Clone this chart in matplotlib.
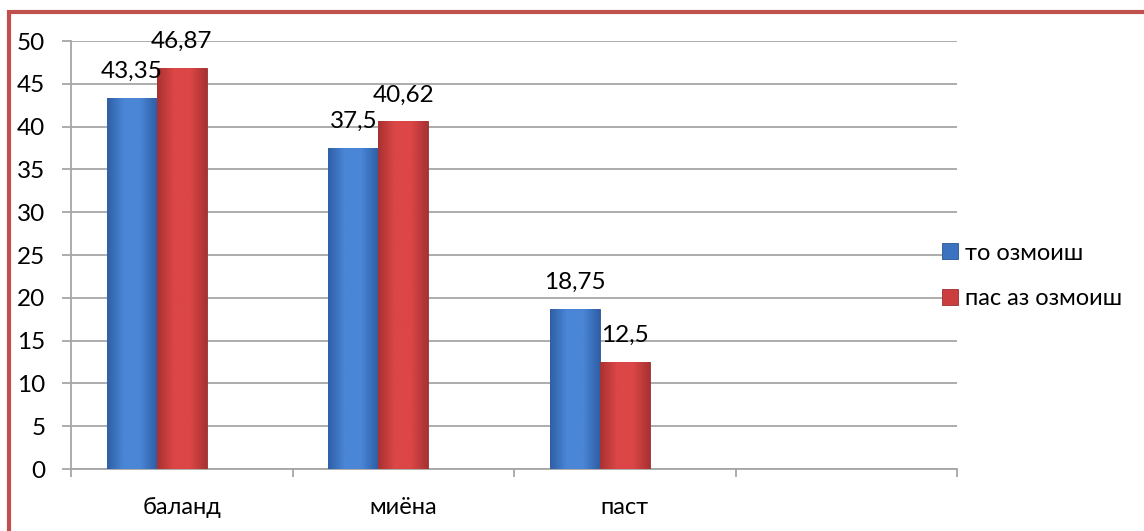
import matplotlib
matplotlib.use('Agg')
import matplotlib.pyplot as plt
from matplotlib.patches import Rectangle
import numpy as np

plt.rcParams['font.family'] = ['Lato', 'DejaVu Sans']

categories = ['баланд', 'миёна', 'паст', '']
before = [43.35, 37.5, 18.75]
after = [46.87, 40.62, 12.5]
before_labels = ['43,35', '37,5', '18,75']
after_labels = ['46,87', '40,62', '12,5']
series_names = ['то озмоиш', 'пас аз озмоиш']


def shade(ax, patches, light, dark):
    # fake the glossy office look: horizontal gradient clipped to each bar
    cmap = matplotlib.colors.LinearSegmentedColormap.from_list('g', [dark, light, light, dark])
    grad = np.linspace(0, 1, 64).reshape(1, -1)
    for p in patches:
        x0, y0 = p.get_x(), p.get_y()
        w, h = p.get_width(), p.get_height()
        im = ax.imshow(grad, cmap=cmap, aspect='auto', extent=(x0, x0 + w, y0, y0 + h),
                       zorder=p.get_zorder() + 0.1, interpolation='bicubic')
        im.set_clip_path(p)


fig = plt.figure(figsize=(11.44, 5.31), dpi=100)
ax = fig.add_axes([71/1144, 62/531, (957-71)/1144, (469-41)/531])

x = np.arange(len(before))
w = 0.225
# excel leaves room for a third (empty) series, so the pair sits left of centre
b1 = ax.bar(x - w, before, w, color='#3b73c0', edgecolor='#2a5590', linewidth=0.6, zorder=3, label=series_names[0])
b2 = ax.bar(x, after, w, color='#cc3d3d', edgecolor='#983030', linewidth=0.6, zorder=3, label=series_names[1])
shade(ax, b1, '#4a86d6', '#2f5fa6')
shade(ax, b2, '#dc4646', '#a83232')

for i in range(len(before)):
    ax.annotate(before_labels[i], (x[i] - w, before[i]), xytext=(0, 19), textcoords='offset points',
                ha='center', va='center', fontsize=17.5, zorder=5)
    ax.annotate(after_labels[i], (x[i], after[i]), xytext=(0, 19), textcoords='offset points',
                ha='center', va='center', fontsize=17.5, zorder=5)

ax.set_xlim(-0.5, len(categories) - 0.5)
ax.set_ylim(0, 50)
ax.set_yticks(np.arange(0, 51, 5))
ax.yaxis.grid(True, color='#a6a6a6', linewidth=1.3, zorder=0)
ax.set_axisbelow(True)

ax.set_xticks(np.arange(len(categories)))
ax.set_xticklabels(categories, fontsize=17)
ax.set_xticks(np.arange(len(categories) + 1) - 0.5, minor=True)
ax.tick_params(axis='x', which='major', length=0, pad=20)
ax.tick_params(axis='x', which='minor', length=6, width=1.3, color='#a6a6a6', direction='out')
ax.tick_params(axis='y', length=6.5, width=1.3, color='#a6a6a6', labelsize=17.5, pad=12)

for s in ['top', 'right']:
    ax.spines[s].set_visible(False)
for s in ['left', 'bottom']:
    ax.spines[s].set_color('#a6a6a6')
    ax.spines[s].set_linewidth(1.3)

ax.legend(loc='center left', bbox_to_anchor=(942/1144, (531-276)/531), bbox_transform=fig.transFigure,
          frameon=False, fontsize=17, handlelength=0.68, handleheight=0.68, handletextpad=0.3,
          labelspacing=1.05, borderpad=0, borderaxespad=0)

fig.patches.append(Rectangle((8.5/1144, -0.2), 1.2, (531-11.5)/531 + 0.2, transform=fig.transFigure,
                             fill=False, edgecolor='#c0504d', linewidth=3))

fig.savefig('out.png', dpi=100)
